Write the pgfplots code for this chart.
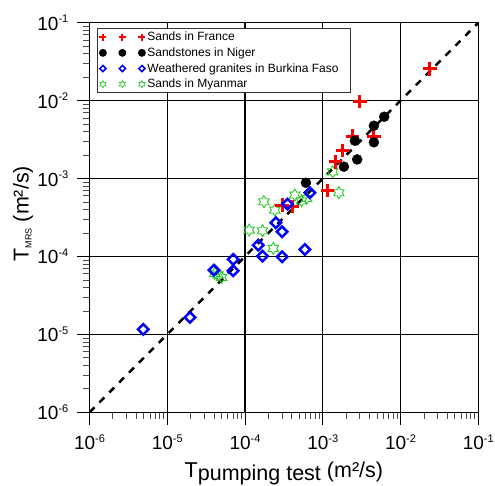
\documentclass[border=0pt]{standalone}
\usepackage{fontspec}
\setmainfont{Liberation Sans}
\usepackage{pgfplots}
\pgfplotsset{compat=1.18}
\definecolor{mygreen}{RGB}{40,200,40}

\pgfdeclareplotmark{hexstar}{%
 \pgfpathmoveto{\pgfpointpolar{90}{\pgfplotmarksize}}%
 \pgfpathlineto{\pgfpointpolar{120}{0.577\pgfplotmarksize}}%
 \pgfpathlineto{\pgfpointpolar{150}{\pgfplotmarksize}}%
 \pgfpathlineto{\pgfpointpolar{180}{0.577\pgfplotmarksize}}%
 \pgfpathlineto{\pgfpointpolar{210}{\pgfplotmarksize}}%
 \pgfpathlineto{\pgfpointpolar{240}{0.577\pgfplotmarksize}}%
 \pgfpathlineto{\pgfpointpolar{270}{\pgfplotmarksize}}%
 \pgfpathlineto{\pgfpointpolar{300}{0.577\pgfplotmarksize}}%
 \pgfpathlineto{\pgfpointpolar{330}{\pgfplotmarksize}}%
 \pgfpathlineto{\pgfpointpolar{0}{0.577\pgfplotmarksize}}%
 \pgfpathlineto{\pgfpointpolar{30}{\pgfplotmarksize}}%
 \pgfpathlineto{\pgfpointpolar{60}{0.577\pgfplotmarksize}}%
 \pgfpathclose\pgfusepathqstroke}

\pgfplotsset{
  france/.style={only marks, mark=+, mark size=6.7pt, red, line width=3pt},
  niger/.style={only marks, mark=*, mark size=5pt, black},
  burkina/.style={only marks, mark=square, mark size=3.7pt, mark options={rotate=45}, blue, line width=2.5pt},
  myanmar/.style={only marks, mark=hexstar, mark size=6pt, mygreen, line width=0.9pt},
  threemarks/.style={legend image code/.code={%
      \draw[mark repeat=1,mark phase=1,##1] plot coordinates {(0pt,0pt)(19.5pt,0pt)(39pt,0pt)};}},
}

\pgfplotstableread{
x y
0.0238 0.0255
0.0030 0.0097
0.00242 0.00351
0.00454 0.00351
0.00178 0.00228
0.00146 0.00164
0.00115 0.000697
0.000300 0.000457
0.000405 0.000434
}\france
\pgfplotstableread{
x y
0.00617 0.00621
0.00454 0.00476
0.00259 0.00306
0.00454 0.00292
0.00277 0.00176
0.00187 0.00142
0.000607 0.000883
}\niger
\pgfplotstableread{
x y
4.92e-6 1.16e-5
1.96e-5 1.65e-5
3.98e-5 6.68e-5
7.05e-5 9.18e-5
7.05e-5 6.55e-5
1.48e-4 1.40e-4
1.68e-4 1.01e-4
3.0e-4 9.9e-5
3.0e-4 2.07e-4
2.49e-4 2.71e-4
5.89e-4 1.23e-4
3.52e-4 4.71e-4
6.83e-4 6.57e-4
}\burkina
\pgfplotstableread{
x y
1.34e-3 1.22e-3
1.61e-3 6.57e-4
1.75e-4 5.04e-4
2.42e-4 3.94e-4
4.38e-4 6.14e-4
5.33e-4 5.19e-4
6.2e-4 5.57e-4
1.13e-4 2.18e-4
1.68e-4 2.14e-4
2.31e-4 1.27e-4
4.1e-5 6.07e-5
5.0e-5 5.4e-5
4.5e-5 5.8e-5
}\myanmar

\def\minorlist{2e-6,3e-6,4e-6,5e-6,6e-6,7e-6,8e-6,9e-6,
2e-5,3e-5,4e-5,5e-5,6e-5,7e-5,8e-5,9e-5,
2e-4,3e-4,4e-4,5e-4,6e-4,7e-4,8e-4,9e-4,
2e-3,3e-3,4e-3,5e-3,6e-3,7e-3,8e-3,9e-3,
2e-2,3e-2,4e-2,5e-2,6e-2,7e-2,8e-2,9e-2}

\begin{document}
\begin{tikzpicture}
\begin{axis}[
  width=388.8pt, height=389.6pt, scale only axis,
  xmode=log, ymode=log, log basis x=10, log basis y=10,
  xmin=1e-6, xmax=1e-1, ymin=1e-6, ymax=1e-1,
  xtick={1e-6,1e-5,1e-4,1e-3,1e-2,1e-1},
  ytick={1e-6,1e-5,1e-4,1e-3,1e-2,1e-1},
  minor xtick/.expand once={\minorlist},
  minor ytick/.expand once={\minorlist},
  tick align=outside, tick pos=left,
  major tick length=12.7pt, minor tick length=6.5pt,
  every tick/.style={black, line width=0.8pt},
  every minor tick/.style={black!70, line width=0.8pt},
  grid=major, major grid style={black, line width=1.1pt},
  axis line style={black, line width=1.2pt},
  xticklabel={10\raisebox{7.5pt}{\fontsize{11}{11}\selectfont\pgfmathparse{int(round(\tick))}\pgfmathresult}},
  yticklabel={10\raisebox{7.5pt}{\fontsize{11}{11}\selectfont\pgfmathparse{int(round(\tick))}\pgfmathresult}},
  xticklabel style={font=\fontsize{19}{19}\selectfont, yshift=-6pt},
  yticklabel style={font=\fontsize{19}{19}\selectfont, xshift=-5pt},
  xlabel={T\raisebox{-2.5pt}{pumping test} (m²/s)},
  ylabel={T\raisebox{-3pt}{\fontsize{9}{9}\selectfont MRS} (m²/s)},
  xlabel style={font=\fontsize{21.5}{21.5}\selectfont, at={(axis description cs:0.5,-0.168)}, anchor=base},
  ylabel style={font=\fontsize{21.5}{21.5}\selectfont, at={(axis description cs:-0.171,0.51)}, anchor=center},
  legend style={at={(rel axis cs:0.0193,0.986)}, anchor=north west, draw=black!80, line width=0.8pt,
    font=\fontsize{12}{12}\selectfont, fill=white, inner xsep=2pt, inner ysep=1.5pt, row sep=1.5pt},
  legend cell align=left,
]
\addplot[black, dashed, line width=2.5pt, dash pattern=on 7pt off 7pt, forget plot] coordinates {(1e-6,1e-6) (1e-1,1e-1)};
\addplot[myanmar, forget plot] table {\myanmar};
\addplot[france, forget plot] table {\france};
\addplot[niger, forget plot] table {\niger};
\addplot[burkina, forget plot] table {\burkina};
\addlegendimage{france, threemarks, mark size=3.5pt, line width=2pt}
\addlegendentry{Sands in France}
\addlegendimage{niger, threemarks, mark size=3.5pt}
\addlegendentry{Sandstones in Niger}
\addlegendimage{burkina, threemarks, mark size=2.2pt, line width=1.5pt}
\addlegendentry{Weathered granites in Burkina Faso\hspace*{8pt}}
\addlegendimage{myanmar, threemarks, mark size=3.5pt, line width=0.7pt}
\addlegendentry{Sands in Myanmar}
\end{axis}
\pgfresetboundingbox
\path[use as bounding box] (-89.5pt,-73.7pt) rectangle (405.5pt,412.3pt);
\end{tikzpicture}
\end{document}
